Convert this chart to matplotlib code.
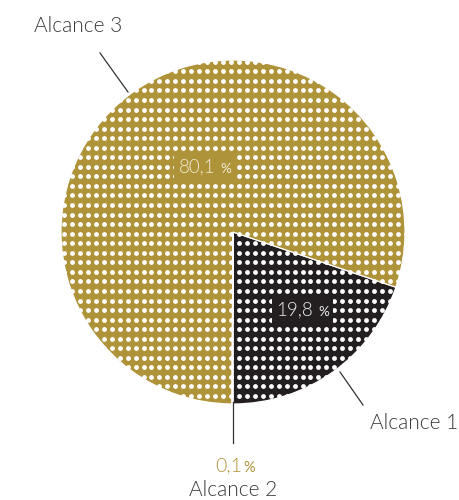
import numpy as np
import matplotlib
matplotlib.use("Agg")
import matplotlib.pyplot as plt
from matplotlib.offsetbox import TextArea, HPacker, AnnotationBbox

# ---- data ----
categories = ["Alcance 1", "Alcance 3", "Alcance 2"]
values = [19.8, 80.1, 0.1]
pct_labels = ["19,8", "80,1", "0,1"]

GOLD = "#AF9339"
BLACK = "#231F20"
TXT = "#3A3A3A"
colors = [BLACK, GOLD, GOLD]

W, H = 459, 500
fig = plt.figure(figsize=(W / 100, H / 100), dpi=100)
ax = fig.add_axes([0, 0, 1, 1])

def Y(y):  # image y (top-down) -> data y
    return H - y

cx, cy, R = 233, Y(232), 172
wedges, _ = ax.pie(values, colors=colors, startangle=-90, center=(cx, cy),
                   radius=R, counterclock=True,
                   wedgeprops=dict(edgecolor="white", linewidth=0.9))
ax.set_xlim(0, W)
ax.set_ylim(0, H)
ax.set_aspect("equal")
ax.axis("off")

# dotted texture
dx, dy = 7.95, 9.55
xs = np.arange(64 - dx * 2, W, dx)
ys = np.arange(205 - dy * 20, H, dy)
gx, gy = np.meshgrid(xs, ys)
gx = gx.ravel(); gy = gy.ravel()
for w in wedges:
    sc = ax.scatter(gx, [Y(v) for v in gy], s=12, c="white", linewidths=0, zorder=3)
    sc.set_clip_path(w)

FONT = "Lato"
WT = 300

def pct_box(x, y, num, fc, tc, size=13.5):
    ta1 = TextArea(num, textprops=dict(family=FONT, weight=WT, size=size, color=tc))
    ta2 = TextArea("%", textprops=dict(family=FONT, weight="normal", size=size * 0.72, color=tc))
    pk = HPacker(children=[ta1, ta2], align="baseline", pad=0, sep=4)
    ab = AnnotationBbox(pk, (x, Y(y)), frameon=True, pad=0.55,
                        bboxprops=dict(facecolor=fc, edgecolor="none", boxstyle="square"),
                        zorder=5)
    ax.add_artist(ab)

pct_box(205, 167.5, pct_labels[1], GOLD, "#F2ECDA")
pct_box(302.5, 310.5, pct_labels[0], BLACK, "#EFEFEF")

# 0,1 % outside label
ta1 = TextArea(pct_labels[2], textprops=dict(family=FONT, weight=WT, size=14, color=GOLD))
ta2 = TextArea("%", textprops=dict(family=FONT, weight="normal", size=10.5, color=GOLD))
pk = HPacker(children=[ta1, ta2], align="baseline", pad=0, sep=1)
ab = AnnotationBbox(pk, (235, Y(466)), frameon=False, pad=0, zorder=5)
ax.add_artist(ab)

# leader lines
lk = dict(color="#333333", lw=0.9, zorder=4)
ax.plot([100, 128], [Y(53), Y(92)], **lk)
ax.plot([340, 363], [Y(372), Y(405)], **lk)
ax.plot([233, 233], [Y(402), Y(443)], **lk)

# category labels
tk = dict(family=FONT, weight=WT, size=15, color=TXT, va="baseline")
ax.text(78, Y(32.4), categories[1], ha="center", **tk)
ax.text(414, Y(429), categories[0], ha="center", **tk)
ax.text(233, Y(496.5), categories[2], ha="center", **tk)

fig.savefig("out.png", dpi=100)
